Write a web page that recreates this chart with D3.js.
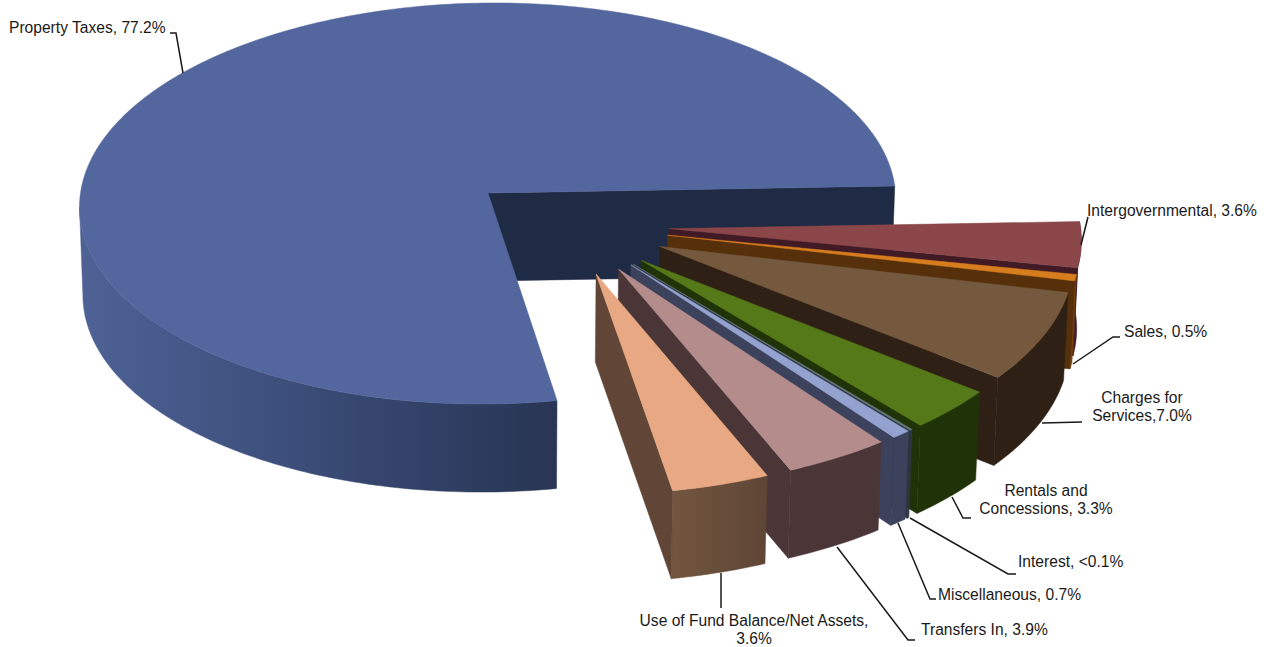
<!DOCTYPE html>
<html>
<head>
<meta charset="utf-8">
<script src="https://cdn.jsdelivr.net/npm/d3@7"></script>
<style>
  html, body { margin: 0; background: #fff; }
  text { font-family: "Liberation Sans", Arial, sans-serif; font-size: 15.6px; fill: #1a1a1a; }
</style>
</head>
<body>
<svg id="chart" width="1270" height="647"></svg>
<script>
// Revenue sources, clockwise from the right-hand edge of the large slice
const categories = ["Intergovernmental", "Sales", "Charges for Services", "Rentals and Concessions",
  "Interest", "Miscellaneous", "Transfers In", "Use of Fund Balance/Net Assets", "Property Taxes"];
const shares = [3.6, 0.5, 7.0, 3.3, 0.09, 0.7, 3.9, 3.6, 77.2];

const topColors  = ["#8a4648", "#d67d1d", "#74593e", "#557818", "#69787f", "#94a2cf", "#b58c8c", "#e8a883", "#54669e"];
const sideColors = ["#401a25", "#55300a", "#2e2014", "#203207", "#2d3640", "#3c415c", "#4a3637", "#614637", "#1f2a44"];
const arcColorsA = ["#401a25", "#7a4508", "#2e2014", "#203207", "#2d3640", "#3c415c", "#4a3637", "#72563f", "#4e6296"];
const arcColorsB = ["#401a25", "#6c3d08", "#2e2014", "#203207", "#2d3640", "#3c415c", "#4a3637", "#5f4535", "#283553"];

// Text blocks and their leader lines
const labelBlocks = [
  { lines: ["Property Taxes, 77.2%"], x: 9, y: 33, anchor: "start" },
  { lines: ["Intergovernmental, 3.6%"], x: 1087, y: 216, anchor: "start" },
  { lines: ["Sales, 0.5%"], x: 1124, y: 337, anchor: "start" },
  { lines: ["Charges for", "Services,7.0%"], x: 1142, y: 403, anchor: "middle" },
  { lines: ["Rentals and", "Concessions, 3.3%"], x: 1046, y: 496, anchor: "middle" },
  { lines: ["Interest, <0.1%"], x: 1018, y: 567, anchor: "start" },
  { lines: ["Miscellaneous, 0.7%"], x: 938, y: 600, anchor: "start" },
  { lines: ["Transfers In, 3.9%"], x: 921, y: 635, anchor: "start" },
  { lines: ["Use of Fund Balance/Net Assets,", "3.6%"], x: 754, y: 626, anchor: "middle" }
];
const leaderLines = [
  [[170, 33], [176, 33], [183, 73]],
  [[1088, 217], [1081, 245]],
  [[1120, 337], [1113, 337], [1073, 364]],
  [[1082, 422], [1042, 423]],
  [[952, 497], [963, 518], [971, 518]],
  [[910, 518], [1008, 574], [1016, 574]],
  [[898, 523], [930, 599], [936, 599]],
  [[837, 547], [908, 640], [915, 640]],
  [[721, 573], [721, 608]]
];

// Tilted-disc projection: unit-radius plane coordinates to screen pixels
const perspective = 0.0524;
const explode = 0.25;
const xScale = d3.scaleLinear().domain([0, 1]).range([488, 895.5]);
const yScale = d3.scaleLinear().domain([0, 1]).range([193, 393]);
const skewScale = d3.scaleLinear().domain([0, 1]).range([0, -7]);
const depthScale = d3.scaleLinear().domain([0, 1]).range([0, 88]);
const converge = d3.scaleLinear().domain([0, 1]).range([0, 0.008]);

function project(u, v, z) {
  const w = 1 - perspective * v;
  const x = xScale(u / w) + skewScale(v / w);
  return [x + (500 - x) * converge(z), yScale(v / w) + depthScale(z)];
}

const direction = a => [Math.sin(a), -Math.cos(a)];
const rad = d3.scaleLinear().domain([0, 180]).range([0, Math.PI]);

const pie = d3.pie().sort(null).startAngle(rad(88)).endAngle(rad(88) + 2 * Math.PI);
const arcs = pie(shares);
const bigIndex = arcs.length - 1;

// Every slice is pulled out of the shared centre; the plane origin sits on the large slice's apex
const mid = d => (d.startAngle + d.endAngle) / 2;
const bigDir = direction(mid(arcs[bigIndex]));
function apexOf(d) {
  const [a, b] = direction(mid(d));
  return [explode * (a - bigDir[0]), explode * (b - bigDir[1])];
}

const arcAngles = (a0, a1) => {
  const n = Math.max(2, Math.ceil((a1 - a0) / rad(1)));
  return d3.range(n + 1).map(i => a0 + (a1 - a0) * i / n);
};
const rim = (apex, a, z) => {
  const [s, c] = direction(a);
  return project(apex[0] + s, apex[1] + c, z);
};

const svg = d3.select("#chart");
const defs = svg.append("defs");
const polygon = d3.line().curve(d3.curveLinearClosed);
const polyline = d3.line();

// Painter's order: the large slice is furthest back, then clockwise towards the viewer
const drawOrder = [bigIndex].concat(d3.range(bigIndex));

drawOrder.forEach(i => {
  const d = arcs[i];
  const apex = apexOf(d);
  const g = svg.append("g").attr("class", "slice").attr("data-name", categories[i]);
  const isBig = i === bigIndex;
  const face = (pts, fill) => g.append("path").attr("d", polygon(pts))
    .attr("fill", fill).attr("stroke", fill).attr("stroke-width", 0.5).attr("stroke-linejoin", "round");

  // Outer wall: the part of the rim that faces the viewer, up to the silhouette tangent
  const wallEnd = isBig ? rad(266) : d.endAngle;
  const angles = arcAngles(d.startAngle, wallEnd);
  const upper = angles.map(a => rim(apex, a, 0));
  const lower = angles.map(a => rim(apex, a, 1)).reverse();
  const [gx0, gx1] = d3.extent(upper.concat(lower), p => p[0]);
  const gradId = "wall" + i;
  const grad = defs.append("linearGradient").attr("id", gradId)
    .attr("gradientUnits", "userSpaceOnUse")
    .attr("x1", isBig ? gx1 : gx0).attr("x2", isBig ? gx0 : gx1)
    .attr("y1", 0).attr("y2", 0);
  grad.append("stop").attr("offset", 0).attr("stop-color", isBig ? arcColorsB[i] : arcColorsA[i]);
  if (isBig) grad.append("stop").attr("offset", 0.33).attr("stop-color", "#33436a");
  grad.append("stop").attr("offset", 1).attr("stop-color", isBig ? arcColorsA[i] : arcColorsB[i]);
  face(upper.concat(lower), `url(#${gradId})`);

  // Radial wall on the clockwise end of the slice
  face([project(apex[0], apex[1], 0), rim(apex, d.endAngle, 0), rim(apex, d.endAngle, 1), project(apex[0], apex[1], 1)], sideColors[i]);

  // Top face
  face([project(apex[0], apex[1], 0)].concat(arcAngles(d.startAngle, d.endAngle).map(a => rim(apex, a, 0))), topColors[i]);
});

svg.append("g").selectAll("path").data(leaderLines).join("path")
  .attr("d", polyline).attr("fill", "none").attr("stroke", "#1a1a1a").attr("stroke-width", 1.5);

const labels = svg.append("g").selectAll("text").data(labelBlocks).join("text")
  .attr("text-anchor", d => d.anchor);
labels.selectAll("tspan").data(d => d.lines.map((t, k) => ({ t, k, x: d.x, y: d.y }))).join("tspan")
  .attr("x", d => d.x).attr("y", d => d.y + d.k * 18).text(d => d.t);
</script>
</body>
</html>
